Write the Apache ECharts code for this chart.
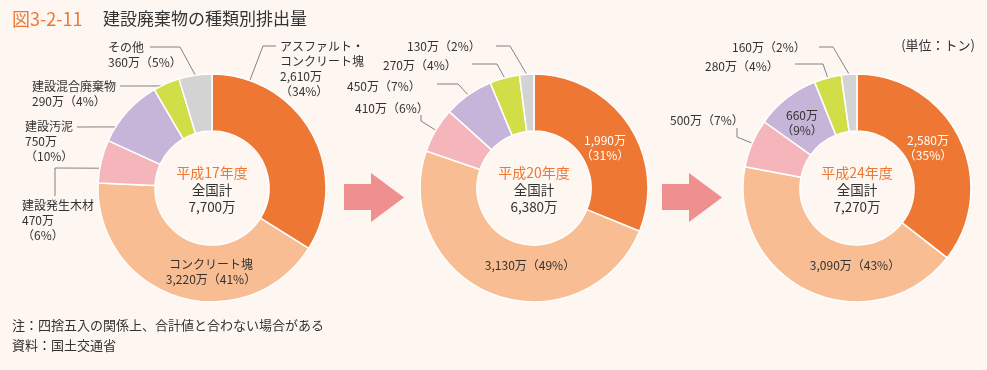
<!DOCTYPE html>
<html><head><meta charset="utf-8">
<script src="https://cdn.jsdelivr.net/npm/echarts@6/dist/echarts.min.js"></script>
<style>html,body{margin:0;padding:0;background:#fdf6f1;}#c{width:987px;height:370px;}</style>
</head><body><div id="c"></div>
<script>
// ---- data ----
const categories = ['アスファルト・コンクリート塊','コンクリート塊','建設発生木材','建設汚泥','建設混合廃棄物','その他'];
const categoryLabels = ['アスファルト・\nコンクリート塊','コンクリート塊','建設発生木材','建設汚泥','建設混合廃棄物','その他'];
const years = ['平成17年度','平成20年度','平成24年度'];
const valuesH17 = [2610,3220,470,750,290,360];
const valuesH20 = [1990,3130,410,450,270,130];
const valuesH24 = [2580,3090,500,660,280,160];
const pctH17 = [34,41,6,10,4,5];
const pctH20 = [31,49,6,7,4,2];
const pctH24 = [35,43,7,9,4,2];
const unitLabel = '(単位：トン)';
const titleNo = '図3-2-11';
const titleText = '建設廃棄物の種類別排出量';
const notes = ['注：四捨五入の関係上、合計値と合わない場合がある','資料：国土交通省'];

// ---- layout / style ----
const colors = ['#ee7833','#f8bd93','#f5b6bb','#c6b5d9','#d1de48','#d3d3d3'];
const FONT = '"Noto Sans CJK JP","Noto Sans",sans-serif';
const centers = [[212,188],[534,188],[857,188]];
const R0 = 57, R1 = 114;
const valueSets = [valuesH17, valuesH20, valuesH24];
const pctSets = [pctH17, pctH20, pctH24];

const labelSpecs = [
  [
    {x:280,y:68.5,align:'left',fmt:'a',line:[[263,46],[276,46]],angle:19.4},
    {x:211,y:272,align:'center',inside:true,fmt:'nVP'},
    {x:22,y:220.5,align:'left',fmt:'nV_P',line:[[55,168],[55,196]],angle:-80},
    {x:25,y:141,align:'left',fmt:'nV_P',line:[[77,127]],angle:-57.6},
    {x:32,y:94,align:'left',fmt:'nVP',line:[[120,86]],angle:-26.5},
    {x:108,y:54.5,align:'left',fmt:'nVP',line:[[180,47],[150,47]]}
  ],
  [
    {x:605,y:148,align:'center',inside:true,fmt:'V_P',color:'#fff'},
    {x:530,y:265,align:'center',inside:true,fmt:'VP'},
    {x:355,y:108,align:'left',fmt:'VP',line:[[421,121],[421,115]]},
    {x:347,y:86,align:'left',fmt:'VP',line:[[458,84],[437,84]]},
    {x:383,y:65,align:'left',fmt:'VP',line:[[497,64],[472,64]]},
    {x:407,y:46,align:'left',fmt:'VP',line:[[510,46],[496,46]]}
  ],
  [
    {x:928,y:148,align:'center',inside:true,fmt:'V_P',color:'#fff'},
    {x:855,y:265,align:'center',inside:true,fmt:'VP'},
    {x:670,y:120,align:'left',fmt:'VP',line:[[737,137],[737,128]]},
    {x:802,y:123,align:'center',inside:true,fmt:'V_P'},
    {x:705,y:66,align:'left',fmt:'VP',line:[[823,64],[795,64]]},
    {x:732,y:47,align:'left',fmt:'VP',line:[[833,47],[819,47]]}
  ]
];

function fmtV(v){ return v.toLocaleString('en-US') + '万'; }
function fmtP(p){ return '（' + p + '%）'; }
function labelText(pi, i){
  const s = labelSpecs[pi][i];
  const V = fmtV(valueSets[pi][i]), P = fmtP(pctSets[pi][i]), N = categoryLabels[i];
  switch(s.fmt){
    case 'a': return N + '\n' + V + '\n' + P;
    case 'nVP': return N + '\n' + V + P;
    case 'nV_P': return N + '\n' + V + '\n' + P;
    case 'V_P': return V + '\n' + P;
    default: return V + P;
  }
}
function midAngles(vals){
  const tot = vals.reduce((a,b)=>a+b,0);
  let cum = 0;
  return vals.map(v=>{ const m = (cum + v/2)/tot*360; cum += v; return m; });
}
function makeLayout(pi){
  const mids = midAngles(valueSets[pi]);
  return function(params){
    const s = labelSpecs[pi][params.dataIndex];
    const out = {x:s.x, y:s.y, align:s.align, verticalAlign:'middle'};
    if (s.line){
      const c = centers[pi];
      const a = (s.angle != null ? s.angle : mids[params.dataIndex]) * Math.PI/180;
      out.labelLinePoints = [[c[0]+R1*Math.sin(a), c[1]-R1*Math.cos(a)]].concat(s.line);
    }
    return out;
  };
}

const series = valueSets.map((vals, pi) => ({
  type:'pie',
  center: centers[pi],
  radius:[R0,R1],
  startAngle:90,
  clockwise:true,
  avoidLabelOverlap:false,
  silent:true,
  itemStyle:{borderColor:'#ffffff',borderWidth:1.5},
  label:{show:true,fontSize:12,lineHeight:15,color:'#333',fontFamily:FONT},
  labelLine:{show:true,smooth:false,lineStyle:{color:'#666',width:0.8}},
  labelLayout: makeLayout(pi),
  data: vals.map((v,i)=>{
    const s = labelSpecs[pi][i];
    return {
      name: categories[i], value: v,
      itemStyle:{color:colors[i]},
      label:{position: s.inside ? 'inside' : 'outside', color: s.color || '#333', formatter: labelText(pi,i)},
      labelLine:{show: !s.inside}
    };
  })
}));

const graphics = [];
// title
graphics.push({type:'text',left:12,top:10,style:{text:titleNo,fill:'#ee7833',font:'18px '+FONT}});
graphics.push({type:'text',left:103,top:10,style:{text:titleText,fill:'#333',font:'17px '+FONT}});
// unit
graphics.push({type:'text',right:12,top:39,style:{text:unitLabel,fill:'#333',font:'13px '+FONT}});
// notes
notes.forEach((t,i)=>graphics.push({type:'text',left:12,top:319+i*20,style:{text:t,fill:'#333',font:'13px '+FONT}}));
// center texts
valueSets.forEach((vals,pi)=>{
  const tot = vals.reduce((a,b)=>a+b,0);
  graphics.push({type:'text',x:centers[pi][0],y:centers[pi][1]+2,style:{
    text:'{y|'+years[pi]+'}\n{t|全国計}\n{t|'+fmtV(tot)+'}',
    align:'center',verticalAlign:'middle',
    rich:{y:{fill:'#ee7833',fontSize:14,lineHeight:17,fontFamily:FONT},t:{fill:'#333',fontSize:13.5,lineHeight:17,fontFamily:FONT}}
  }});
});
// arrows
[0,318].forEach(dx=>{
  graphics.push({type:'polygon',shape:{points:[[344+dx,184],[371+dx,184],[371+dx,173],[404+dx,197.5],[371+dx,222],[371+dx,210],[344+dx,210]]},style:{fill:'#f08f8f'}});
});

const chart = echarts.init(document.getElementById('c'), null, {renderer:'canvas'});
chart.setOption({
  backgroundColor:'#fdf6f1',
  animation:false,
  series: series,
  graphic: graphics
});
</script>
</body></html>
